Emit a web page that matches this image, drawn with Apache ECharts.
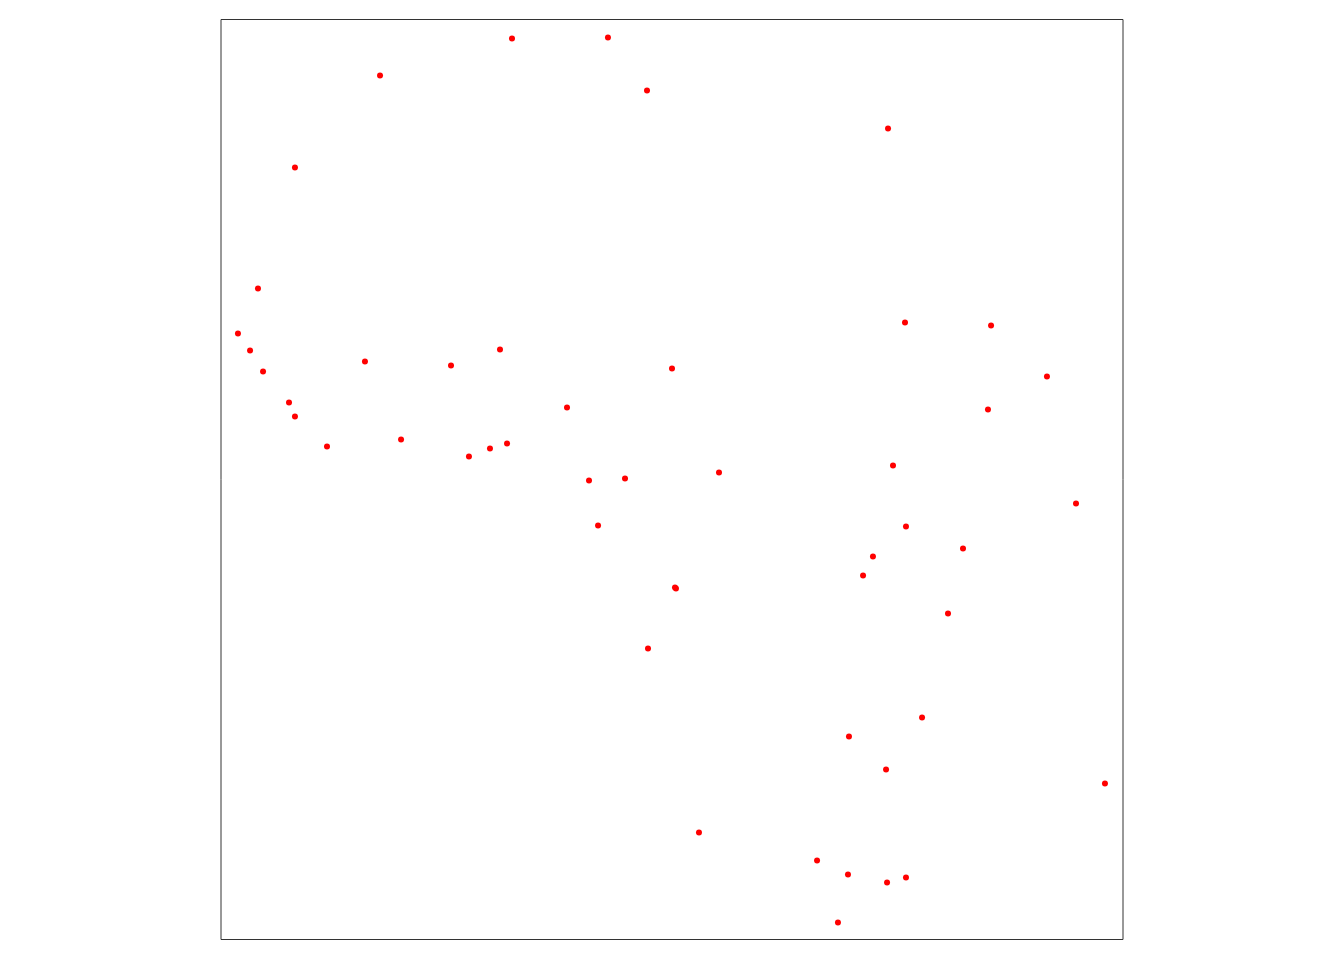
<!DOCTYPE html>
<html><head><meta charset="utf-8">
<script src="https://cdn.jsdelivr.net/npm/echarts@6/dist/echarts.min.js"></script>
<style>html,body{margin:0;padding:0;background:#fff}#c{width:1344px;height:960px}</style>
</head><body><div id="c"></div>
<script>
const xValues = [32.26,42.90,17.63,47.23,73.95,8.20,4.10,1.88,3.22,4.66,75.83,85.37,15.96,25.50,30.93,50.00,91.57,7.54,8.20,38.36,85.03,11.75,19.96,27.49,29.82,31.71,40.80,44.79,55.21,74.50,94.79,41.80,75.94,82.26,72.28,71.18,50.33,50.44,80.60,47.34,77.72,69.62,73.73,98.00,52.99,66.08,69.51,75.94,73.84,68.40];
const yValues = [97.93,98.04,93.91,92.28,88.15,83.91,70.76,65.87,64.02,61.74,67.07,66.74,62.83,62.39,64.13,62.07,61.20,58.37,56.85,57.83,57.61,53.59,54.35,52.50,53.37,53.91,49.89,50.11,50.76,51.52,47.39,45.00,44.89,42.50,41.63,39.57,38.26,38.15,35.43,31.63,24.13,22.07,18.48,16.96,11.63,8.59,7.07,6.74,6.20,1.85];
const xMin = 0, xMax = 100, yMin = 0, yMax = 100;
const points = xValues.map((x, i) => [x, yValues[i]]);
const chart = echarts.init(document.getElementById('c'), null, {renderer: 'canvas'});
chart.setOption({
  animation: false,
  grid: {left: 221, top: 19.5, width: 902, height: 920, show: true, borderColor: '#333', borderWidth: 1, backgroundColor: 'transparent'},
  xAxis: {type: 'value', min: xMin, max: xMax, show: true, axisLine: {show: false}, axisTick: {show: false}, axisLabel: {show: false}, splitLine: {show: false}},
  yAxis: {type: 'value', min: yMin, max: yMax, show: true, axisLine: {show: false}, axisTick: {show: false}, axisLabel: {show: false}, splitLine: {show: false}},
  series: [{type: 'scatter', data: points, symbol: 'circle', symbolSize: 6, itemStyle: {color: '#ff0000', opacity: 1}}]
});
</script></body></html>
